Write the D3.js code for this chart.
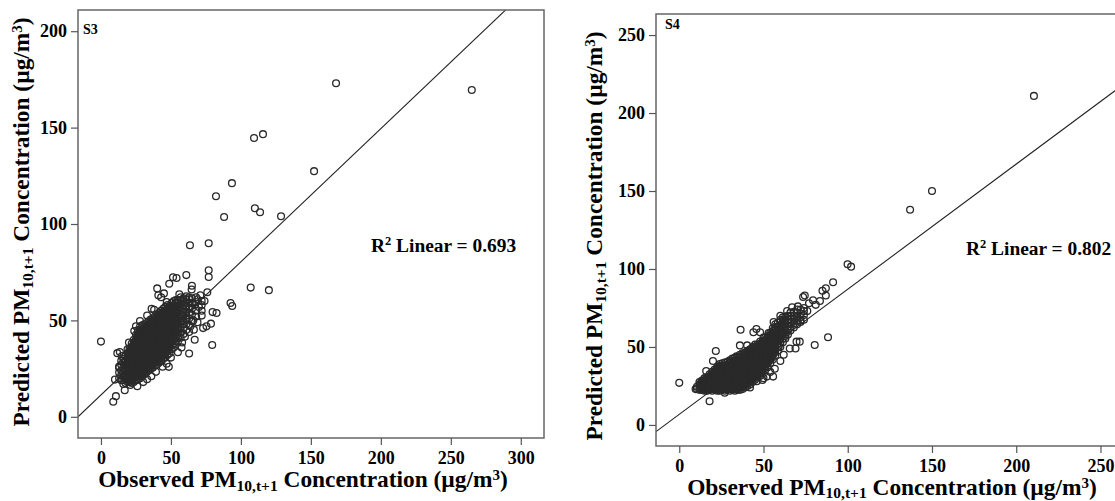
<!DOCTYPE html>
<html><head><meta charset="utf-8">
<script src="https://cdn.jsdelivr.net/npm/d3@7"></script>
<style>html,body{margin:0;padding:0;background:#fff;overflow:hidden}svg{display:block}text{font-family:"Liberation Serif",serif;font-weight:bold;fill:#000}</style>
</head><body><svg id="c" width="1115" height="501"></svg>
<script>
const s3Ticks={x:[0,50,100,150,200,250,300],y:[0,50,100,150,200]};
const s4Ticks={x:[0,50,100,150,200,250],y:[0,50,100,150,200,250]};
const s3Fit=[[-16.4,0],[300,218.5]];
const s4Fit=[[-13.8,-4.3],[262,217]];
const s3Sparse=[[265,169.5],[168,173],[109.4,144.6],[115.8,146.6],[152.3,127.4],[93.6,121.2],[82.2,114.4],[88,103.6],[110,108.2],[113.7,106.1],[128.7,104],[63.6,89],[77,90],[77,76],[77,72.5],[61,73.5],[51.5,72.4],[54,72],[65,68],[64.8,66],[48.8,69],[40.2,66.6],[41,63],[43,62],[45,64],[76,64.6],[107,67],[120,65.7],[92.6,59],[93.8,57.5],[79.8,54.3],[82.6,53.8],[78.6,48.3],[73,46],[75.4,46.9],[66.4,45.2],[67,40],[63,44],[79.5,37.2],[63,32.8],[57.6,36],[50,30.7],[48.5,25.9],[39.3,23.3],[30.2,18],[26,15.9],[17,13.8],[10,19.3],[10.7,10.7],[8.8,7.8],[11.7,33],[13.5,33.6],[23.8,44.5],[27.9,49.7],[36.2,56],[0,39],[70,57],[72,52.5],[69,61],[74,60],[71,63],[67,58],[66,50],[69,49],[64,47],[60,41.5],[58,38.5],[55,33.5],[47,27.5],[44,26],[36,21],[33,19.5],[21,16.5],[13,25.5],[15,31.5],[20,38.5],[25,47],[33,52.5],[38,55.5],[47,59.5],[56,63.5]];
const s3Cloud=[
[13,[20,23,26]],
[14.5,[19,21.5,24,27,29]],
[16,[17,19,21,23,25.5,28,30]],
[17.5,[17.5,19.5,21.5,23.5,25,27,29,31.5]],
[19,[18,20,22,24,26,27.5,29.5,31,33,35]],
[20.5,[18,20,21.5,23,25,26.5,28,30,31.5,33.5,35.5]],
[22,[17.5,19,21,22.5,24,26,27.5,29,31,32.5,34,36,38]],
[23.5,[18,20,21.5,23,25,26.5,28,29.5,31,33,34.5,36,38,40]],
[25,[19,20.5,22,24,25.5,27,28.5,30,32,33.5,35,37,38.5,40,42.5]],
[26.5,[19.5,21,23,24.5,26,28,29.5,31,32.5,34,36,37.5,39,41,43,45]],
[28,[20,22,23.5,25,27,28.5,30,32,33.5,35,36.5,38,40,41.5,43,45,47]],
[29.5,[21,22.5,24,26,27.5,29,31,32.5,34,35.5,37,39,40.5,42,44,45.5,47.5]],
[31,[22,23.5,25,27,28.5,30,31.5,33,35,36.5,38,39.5,41,43,44.5,46,48]],
[32.5,[23,24.5,26,27.5,29,31,32.5,34,35.5,37,39,40.5,42,43.5,45,47,48.5]],
[34,[24,25.5,27,29,30.5,32,33.5,35,37,38.5,40,41.5,43,45,46.5,48,49.5]],
[35.5,[25,26.5,28,29.5,31,33,34.5,36,37.5,39,41,42.5,44,45.5,47,49,50.5]],
[37,[25.5,27,29,30.5,32,33.5,35,37,38.5,40,41.5,43,45,46.5,48,49.5,51]],
[38.5,[26.5,28,30,31.5,33,34.5,36,38,39.5,41,42.5,44,46,47.5,49,50.5,52]],
[40,[27,29,30.5,32,34,35.5,37,38.5,40,42,43.5,45,46.5,48,50,51.5,53]],
[41.5,[28,30,31.5,33,34.5,36,38,39.5,41,42.5,44,46,47.5,49,50.5,52,54]],
[43,[29,30.5,32,34,35.5,37,38.5,40,42,43.5,45,46.5,48,50,51.5,53,55]],
[44.5,[30,31.5,33,35,36.5,38,39.5,41,43,44.5,46,47.5,49,51,52.5,54,56]],
[46,[31,33,34.5,36,37.5,39,41,42.5,44,45.5,47,49,50.5,52,53.5,55,57]],
[47.5,[32,34,35.5,37,38.5,40,42,43.5,45,46.5,48,50,51.5,53,54.5,56,58]],
[49,[33,35,36.5,38,40,41.5,43,44.5,46,48,49.5,51,52.5,54,56,57.5]],
[50.5,[35,37,39,40.5,42,44,45.5,47,49,50.5,52,53.5,55,57,59]],
[52,[36,38,40,41.5,43,45,46.5,48,50,51.5,53,55,56.5,58,60]],
[53.5,[37.5,39.5,41.5,43.5,45,47,48.5,50,52,54,55.5,57,59,60.5]],
[55,[39,41,43,45,46.5,48.5,50,52,54,55.5,57,59,60.5]],
[57,[41,43.5,45.5,47,49.5,51,53,55,57,58.5,60.5,62]],
[59,[43,46,48,50,52,54,56,58,60,61.5]],
[61,[45,48,50.5,52.5,54.5,57,59,61,62.5]],
[63,[47.5,51,54,56.5,59,61,62]],
[65,[49.5,53,56,59,61.5]],
[68,[52,55,59.5,62]],
[72,[55,58,60]]
];
const s3Core=[
[17,[20.5,24.5,28]],
[19.8,[19,23,25,28.5,30.5,32.5]],
[21.3,[20,24,27,29.5,33,35]],
[22.8,[20.5,23.5,25.5,28.5,30.5,33.5,35.5,37]],
[24.3,[21,24,27,30,32,35.5,37.5,39]],
[25.8,[21,23,26,29,31.5,34.5,36.5,39.5,41.5]],
[27.3,[22,25,27.5,30.5,33,35.5,38.5,41,43]],
[28.8,[23,26,28,31,33,36,38.5,41,44]],
[30.3,[24,26.5,29.5,32,35,37.5,40,43,45]],
[31.8,[25,28,30.5,33.5,36,38.5,41.5,44,46]],
[33.3,[26,28.5,31,34,36.5,39,42,44.5,47]],
[34.8,[27,29.5,32,35,37.5,40.5,43,45.5,48]],
[36.3,[28,30.5,33,36,38.5,41,44,46.5,49]],
[37.8,[29,31.5,34,37,39.5,42,45,47.5,50]],
[39.3,[30,32.5,35,38,40.5,43,46,48.5,51]],
[40.8,[31,33.5,36,39,41.5,44,47,49.5,52]],
[42.3,[32,34.5,37,40,42.5,45,48,50.5,53]],
[43.8,[33,35.5,38,41,43.5,46,49,51.5,54]],
[45.3,[34,36.5,39.5,42,44.5,47.5,50,52.5,55]],
[46.8,[36,38.5,41,44,46.5,49,51.5,54]],
[48.3,[37,39.5,42,45,47.5,50,52.5,55]],
[49.8,[38.5,41,43.5,46.5,49,51.5,54,56]],
[51.3,[41,44,46.5,49,52,54.5]],
[52.8,[44,47,49.5,52,54.5]]
];
const s4Sparse=[[36.4,61],[45.8,61.5],[44,59.4],[48,59.4],[36,51],[40.3,51],[21.7,47.4],[20,41],[16,34.6],[88.3,56.2],[80.4,51.3],[71.5,53.4],[69.6,53.4],[69,49],[65.6,49],[55.7,31],[56.7,36],[49.4,28.8],[27,20.7],[18,15.2],[0,27],[9.7,23],[91.3,91.5],[87,87.6],[85,86],[87,83],[83.5,79.5],[79.4,80],[74.5,83],[73.5,82],[70.4,76],[67,75.4],[99.9,103],[102,101.5],[137,138],[150,150],[210.5,211],[77,78],[81,77],[76,73],[72,67],[62,45],[60,41],[54,34],[52,31],[46,28],[42,24],[30,41],[34,44],[24,38],[50,56],[53,59],[56,66],[60,70],[64,73],[47,38],[59,50],[50,30],[63,57]];
const s4Cloud=[
[10.5,[23,24.5]],
[12,[22.5,24,26,27.5]],
[13.5,[22.5,24,25.5,27,28.5]],
[15,[22,23.5,25,27,28.5,30]],
[16.5,[22,24,25.5,27,29,30.5]],
[18,[22.5,24,26,27.5,29,31,32.5]],
[19.5,[22,23.5,25.5,27,29,30.5,32,34]],
[21,[22.5,24,26,27.5,29,31,32.5,34,35.5]],
[22.5,[22,24,25.5,27.5,29,31,32.5,34,36,37]],
[24,[22,23.5,25.5,27,29,30.5,32.5,34,36,37.5,39]],
[25.5,[22.5,24,26,28,29.5,31.5,33,35,36.5,38,39.5]],
[27,[22,24,25.5,27.5,29,31,33,34.5,36.5,38,40]],
[28.5,[22.5,24.5,26,28,30,31.5,33.5,35,37,38.5,40.5]],
[30,[22,24,26,27.5,29.5,31,33,35,36.5,38.5,40,41.5]],
[31.5,[22.5,24,26,28,30,31.5,33.5,35.5,37,39,40.5,42.5]],
[33,[22,24,26,28,29.5,31.5,33.5,35,37,39,41,43]],
[34.5,[22.5,24.5,26.5,28,30,32,34,35.5,37.5,39.5,41,43.5]],
[36,[22.5,24.5,26.5,28.5,30.5,32,34,36,38,39.5,41.5,43.5,45]],
[37.5,[23,25,27,29,31,32.5,34.5,36.5,38,40,42,44,46]],
[39,[24,26,28,30,31.5,33.5,35.5,37,39,41,43,45,46.5]],
[40.5,[25,27,29,31,33,34.5,36.5,38.5,40,42,44,46,47.5]],
[42,[26,28,30,32,33.5,35.5,37.5,39.5,41,43,45,47,48.5]],
[43.5,[27.5,29.5,31.5,33,35,37,39,41,42.5,44.5,46.5,48.5,50]],
[45,[29,31,33,35,36.5,38.5,40.5,42.5,44.5,46,48,50,51.5]],
[46.5,[30.5,32.5,34.5,36.5,38.5,40.5,42,44,46,48,50,51.5]],
[48,[31.5,33.5,36,38,40,42,44,46,48,50,52,53.5]],
[49.5,[33,35.5,37.5,39.5,41.5,43.5,46,48,50,52,54]],
[51,[35,37.5,40,42,44,46,48,50,52,54,56]],
[52.5,[37,39.5,42,44,46,48,50.5,52.5,54.5,57]],
[54,[39.5,42,44,46.5,48.5,50.5,53,55,57,59]],
[55.5,[42,44.5,46.5,49,51,53,55.5,57.5,60,62]],
[57,[44.5,47,49,51.5,53.5,56,58,60.5,63,64.5]],
[58.5,[47.5,50,52,54.5,56.5,59,61,63,65.5]],
[60,[50,52.5,55,57,59.5,61.5,64,66,67.5]],
[61.5,[53,55.5,58,60,62.5,64.5,67,69]],
[63,[55.5,58,60.5,63,65,67.5,69.5]],
[64.5,[58,60.5,63,65.5,67.5,70]],
[66,[60.5,63,65.5,68,70,72]],
[68,[62.5,65,67.5,70,72.5]],
[70,[64.5,67,69.5,72,74]],
[72,[66,69,71.5,74]],
[74,[67.5,70.5,73,75]]
];
const s4Core=[
[13,[23,25,27]],
[14.3,[23,24.5,26.5,28]],
[15.8,[23,24.5,26,28,29.5]],
[17.3,[23,25,26.5,28,30]],
[18.8,[23,25,27,28.5,30,32]],
[20.3,[23,25,26.5,28,30,31.5,33]],
[21.8,[23,25,26.5,28.5,30,32,33.5,35]],
[23.3,[23,25,26.5,28.5,30,32,33.5,35,37]],
[24.8,[23,25,27,28.5,30.5,32,34,35.5,37.5]],
[26.3,[23,25,27,29,30.5,32.5,34,36,38]],
[27.8,[23,25,27,29,30.5,32.5,34.5,36,38]],
[29.3,[23,25,27,29,31,33,34.5,36.5,38.5]],
[30.8,[23,25,27,29,31,33,35,37,39]],
[32.3,[23,25,27,29,31,33,35,37,39,41]],
[33.8,[23,25,27,29,31,33,35,37,39,41]],
[35.3,[23.5,25.5,27.5,29.5,31,33,35,37,39,41,43]],
[36.8,[24,26,28,30,32,34,36,38,40,42,44]],
[38.3,[25,27,29,31,33,35,37,39,41,43,45]],
[39.8,[26,28,30,32,34,36,38,40,42,44,46]],
[41.3,[27,29,31,33,35,37,39,41,43,45,47]],
[42.8,[29,31,33,35,37,39,41,43,45,47]],
[44.3,[30,32,34,36,38,40,42,44,46,48]],
[45.8,[32,34,36,38,40,42,44,46,48,50]],
[47.3,[33,35,37,39,41,43,45,47,49,51]],
[48.8,[35,37,39,41,43,45,47,49,51]],
[50.3,[37,39,41,43,45,47,49,51,53]],
[51.8,[39,41,43,45,47,49,51,53,55]],
[53.3,[41,43,45,47,49,51,54,56]],
[54.8,[43,45.5,47.5,50,52,54,56.5,58.5]],
[56.3,[46,48,50,52.5,55,57,59,61]]
];
const panels=[
 {tag:"S3",frame:[78,10,544,438],xd:[-16.4,316.6],yd:[-11,211],ticks:s3Ticks,fit:s3Fit,cloud:s3Cloud,core:s3Core,sparse:s3Sparse,
  r2:"0.693",r2pos:[371,252],tagpos:[83,34],xTitle:[303,487],yTitle:[29,222]},
 {tag:"S4",frame:[656,14,1118,446],xd:[-13.8,260.4],yd:[-13.5,263.5],ticks:s4Ticks,fit:s4Fit,cloud:s4Cloud,core:s4Core,sparse:s4Sparse,
  r2:"0.802",r2pos:[966,255],tagpos:[665,29],xTitle:[892,494.5],yTitle:[602,236]}
];
const svg=d3.select("#c");
const supDy=-7, subDy=3.5;
function title(sel,word){
 sel.append("tspan").text(word+" PM");
 sel.append("tspan").attr("font-size",15.5).attr("dy",subDy).text("10,t+1");
 sel.append("tspan").attr("dy",-subDy).text(" Concentration (µg/m");
 sel.append("tspan").attr("font-size",15).attr("dy",supDy).text("3");
 sel.append("tspan").attr("dy",-supDy).text(")");
}
panels.forEach((p,i)=>{
 const [l,t,r,b]=p.frame;
 const x=d3.scaleLinear().domain(p.xd).range([l,r]);
 const y=d3.scaleLinear().domain(p.yd).range([b,t]);
 const g=svg.append("g");
 const id="clip"+i;
 svg.append("defs").append("clipPath").attr("id",id).append("rect").attr("x",l).attr("y",t).attr("width",r-l).attr("height",b-t);
 const pts=p.cloud.concat(p.core).flatMap(([o,ys])=>ys.map(v=>[o,v])).concat(p.sparse);
 const plot=g.append("g").attr("clip-path",`url(#${id})`);
 plot.append("path").attr("d",d3.line().x(d=>x(d[0])).y(d=>y(d[1]))(p.fit)).attr("stroke","#222").attr("stroke-width",1.1).attr("fill","none");
 plot.selectAll("circle").data(pts).join("circle").attr("cx",d=>x(d[0])).attr("cy",d=>y(d[1])).attr("r",3.4).attr("fill","none").attr("stroke","#2a2a2a").attr("stroke-width",1.3);
 g.append("rect").attr("x",l).attr("y",t).attr("width",r-l).attr("height",b-t).attr("fill","none").attr("stroke","#666").attr("stroke-width",1.5);
 const ax=g.append("g").attr("transform",`translate(0,${b})`).call(d3.axisBottom(x).tickValues(p.ticks.x).tickSize(7).tickPadding(6).tickFormat(d3.format("d")));
 const ay=g.append("g").attr("transform",`translate(${l},0)`).call(d3.axisLeft(y).tickValues(p.ticks.y).tickSize(7).tickPadding(4).tickFormat(d3.format("d")));
 [ax,ay].forEach(a=>{a.select(".domain").remove();a.selectAll("line").attr("stroke","#555").attr("stroke-width",1.2);a.selectAll("text").attr("font-size",18).attr("font-family",'"Liberation Serif",serif').attr("font-weight","bold").attr("fill","#000");});
 g.append("text").attr("x",p.tagpos[0]).attr("y",p.tagpos[1]).attr("font-size",14).text(p.tag);
 const rt=g.append("text").attr("x",p.r2pos[0]).attr("y",p.r2pos[1]).attr("font-size",19.4);
 rt.append("tspan").text("R");
 rt.append("tspan").attr("font-size",12.5).attr("dy",-7).text("2");
 rt.append("tspan").attr("dy",7).text(" Linear = "+p.r2);
 const xt=g.append("text").attr("x",p.xTitle[0]).attr("y",p.xTitle[1]).attr("text-anchor","middle").attr("font-size",23.4);
 title(xt,"Observed");
 const yt=g.append("text").attr("transform",`translate(${p.yTitle[0]},${p.yTitle[1]}) rotate(-90)`).attr("text-anchor","middle").attr("font-size",23.4);
 title(yt,"Predicted");
});
</script></body></html>
